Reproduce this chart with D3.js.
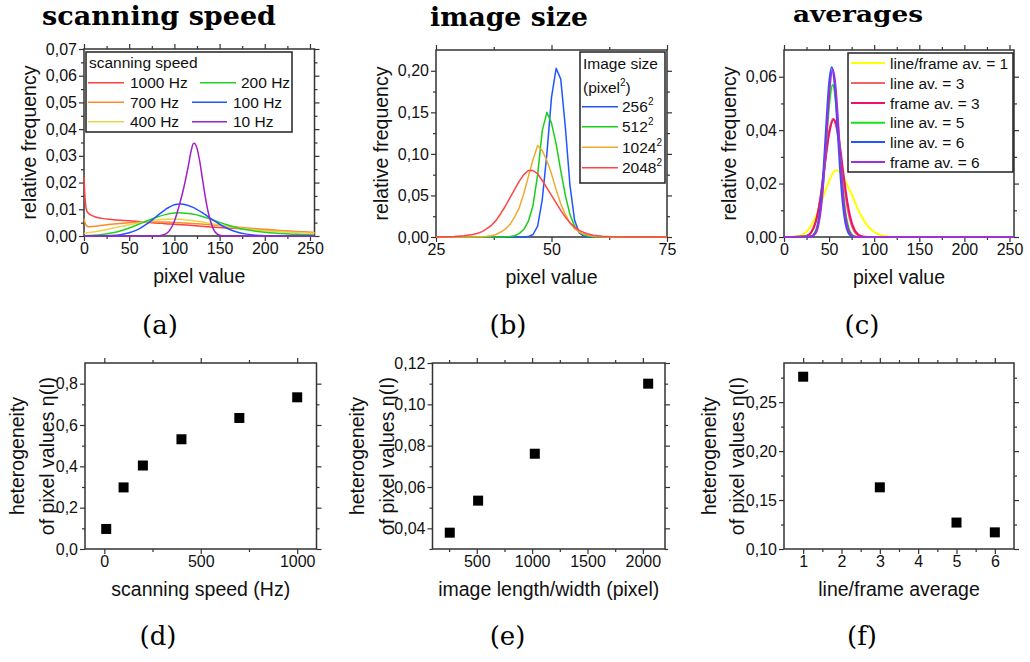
<!DOCTYPE html>
<html>
<head>
<meta charset="utf-8">
<script src="https://cdn.jsdelivr.net/npm/d3@7"></script>
<style>
  body { margin: 0; background: #fff; }
  svg { display: block; font-family: "Liberation Sans", Arial, sans-serif; }
</style>
</head>
<body>
<svg id="chart" width="1030" height="662"></svg>
<script>
// ---------------- data ----------------
// (a) histograms for different scanning speeds: [pixel value, relative frequency]
const speedLabels = ["1000 Hz", "700 Hz", "400 Hz", "200 Hz", "100 Hz", "10 Hz"];
const hz1000 = [[0,0.0220],[1,0.0150],[2,0.0110],[3,0.0095],[5,0.0085],[8,0.0078],[12,0.0072],[20,0.0066],[30,0.0062],[40,0.0059],[50,0.0057],[60,0.0054],[70,0.0051],[80,0.0049],[90,0.0046],[100,0.0044],[120,0.0039],[140,0.0034],[160,0.0030],[180,0.0026],[200,0.0022],[220,0.0018],[240,0.0015],[255,0.0012]];
const hz700 = [[0,0.0065],[1,0.0050],[3,0.0038],[5,0.0035],[10,0.0036],[20,0.0040],[30,0.0044],[40,0.0047],[50,0.0050],[60,0.0051],[70,0.0052],[80,0.0052],[90,0.0052],[100,0.0051],[110,0.0049],[120,0.0047],[140,0.0042],[160,0.0036],[180,0.0030],[200,0.0025],[220,0.0020],[240,0.0016],[255,0.0013]];
const hz400 = [[0,0.0010],[10,0.0015],[20,0.0021],[30,0.0028],[40,0.0035],[50,0.0042],[60,0.0049],[70,0.0055],[80,0.0060],[90,0.0063],[100,0.0064],[110,0.0062],[120,0.0058],[130,0.0053],[140,0.0047],[150,0.0041],[160,0.0035],[170,0.0030],[180,0.0026],[190,0.0023],[200,0.0020],[210,0.0018],[220,0.0016],[230,0.0014],[240,0.0012],[255,0.0010]];
const hz200 = [[0,0.0001],[10,0.0003],[20,0.0006],[30,0.0011],[40,0.0019],[50,0.0030],[60,0.0043],[70,0.0057],[80,0.0070],[90,0.0080],[100,0.0086],[105,0.0087],[110,0.0086],[120,0.0082],[130,0.0074],[140,0.0063],[150,0.0051],[160,0.0040],[170,0.0030],[180,0.0023],[190,0.0018],[200,0.0014],[210,0.0011],[220,0.0009],[230,0.0007],[240,0.0006],[255,0.0004]];
const hz100 = [[0,0],[10,0],[20,0.0001],[30,0.0002],[40,0.0005],[50,0.0012],[60,0.0025],[70,0.0046],[80,0.0073],[90,0.0099],[100,0.0117],[106,0.0120],[110,0.0119],[120,0.0108],[130,0.0089],[140,0.0066],[150,0.0044],[160,0.0026],[170,0.0014],[180,0.0007],[190,0.0003],[200,0.0001],[220,0],[255,0]];
const hz10 = [[0,0],[80,0],[85,0.0002],[90,0.0007],[95,0.0022],[100,0.0055],[105,0.0110],[110,0.0175],[115,0.0255],[118,0.0310],[121,0.0346],[122,0.0347],[125,0.0328],[128,0.0280],[131,0.0215],[134,0.0150],[137,0.0095],[140,0.0055],[145,0.0015],[150,0.0003],[155,0],[255,0]];

// (b) histograms for different image sizes
const sizeLabels = ["256", "512", "1024", "2048"];
const size256 = [[25,0],[44,0],[45,0.0005],[46,0.003],[47,0.013],[48,0.045],[49,0.100],[50,0.168],[51,0.203],[52,0.190],[53,0.132],[54,0.062],[55,0.020],[56,0.005],[57,0.001],[58,0],[75,0]];
const size512 = [[25,0],[40,0],[41,0.0005],[42,0.0015],[43,0.004],[44,0.009],[45,0.019],[46,0.038],[47,0.075],[48,0.128],[49,0.150],[50,0.137],[51,0.112],[52,0.080],[53,0.050],[54,0.027],[55,0.013],[56,0.006],[57,0.0025],[58,0.001],[59,0.0003],[60,0],[75,0]];
const size1024 = [[25,0],[33,0],[34,0.0002],[35,0.0004],[36,0.0008],[37,0.0015],[38,0.003],[39,0.006],[40,0.0095],[41,0.015],[42,0.024],[43,0.035],[44,0.052],[45,0.073],[46,0.093],[47,0.110],[48,0.104],[49,0.092],[50,0.076],[51,0.057],[52,0.040],[53,0.027],[54,0.017],[55,0.010],[56,0.006],[57,0.0035],[58,0.002],[59,0.001],[60,0.0005],[62,0],[75,0]];
const size2048 = [[25,0],[27,0.0002],[29,0.0006],[31,0.0015],[33,0.003],[34,0.0045],[35,0.0065],[36,0.010],[37,0.014],[38,0.020],[39,0.028],[40,0.037],[41,0.047],[42,0.057],[43,0.067],[44,0.075],[45,0.080],[46,0.080],[47,0.076],[48,0.068],[49,0.059],[50,0.050],[51,0.041],[52,0.032],[53,0.024],[54,0.017],[55,0.012],[56,0.008],[57,0.0055],[58,0.0035],[59,0.002],[61,0.0008],[63,0.0002],[66,0],[75,0]];

// (c) histograms for line / frame averaging
const avgLabels = ["line/frame av. = 1", "line av. = 3", "frame av. = 3", "line av. = 5", "line av. = 6", "frame av. = 6"];
const av1 = [[0,0],[10,0.0001],[15,0.0003],[20,0.0008],[25,0.0020],[30,0.0042],[35,0.0075],[40,0.0118],[45,0.0165],[50,0.0210],[55,0.0243],[58,0.0250],[62,0.0242],[66,0.0222],[70,0.0195],[75,0.0160],[80,0.0120],[85,0.0083],[90,0.0054],[95,0.0033],[100,0.0019],[105,0.0010],[110,0.0005],[115,0.0002],[120,0.0001],[130,0],[255,0]];
const lineAv3 = [[0,0],[20,0.0001],[25,0.0004],[30,0.0016],[35,0.0054],[40,0.0138],[45,0.0269],[50,0.0396],[54.5,0.0443],[58,0.0414],[62,0.0325],[66,0.0213],[70,0.0117],[74,0.0054],[78,0.0021],[82,0.0007],[86,0.0002],[90,0],[255,0]];
const frameAv3 = [[0,0],[20,0.0001],[25,0.0004],[30,0.0017],[35,0.0055],[40,0.0137],[45,0.0262],[50,0.0386],[55,0.0440],[58,0.0419],[62,0.0341],[66,0.0234],[70,0.0137],[74,0.0067],[78,0.0028],[82,0.0010],[86,0.0003],[90,0.0001],[95,0],[255,0]];
const lineAv5 = [[0,0],[30,0.0003],[35,0.0021],[38,0.0055],[41,0.0122],[44,0.0228],[47,0.0364],[50,0.0492],[54,0.0569],[57,0.0524],[60,0.0410],[63,0.0272],[66,0.0153],[69,0.0073],[72,0.0030],[75,0.0010],[78,0.0003],[81,0.0001],[85,0],[255,0]];
const lineAv6 = [[0,0],[30,0.0002],[35,0.0018],[38,0.0054],[41,0.0131],[44,0.0261],[47,0.0428],[50,0.0575],[53,0.0635],[56,0.0575],[59,0.0428],[62,0.0261],[65,0.0131],[68,0.0054],[71,0.0018],[74,0.0005],[77,0.0001],[80,0],[255,0]];
const frameAv6 = [[0,0],[30,0.0002],[35,0.0014],[38,0.0043],[41,0.0106],[44,0.0219],[47,0.0375],[50,0.0530],[54,0.0627],[57,0.0570],[60,0.0430],[63,0.0268],[66,0.0138],[69,0.0059],[72,0.0021],[75,0.0006],[78,0.0001],[82,0],[255,0]];

// (d)-(f) heterogeneity of pixel values
const scanSpeeds = [10, 100, 200, 400, 700, 1000];
const etaSpeed = [0.097, 0.298, 0.404, 0.531, 0.634, 0.734];
const imageLengths = [256, 512, 1024, 2048];
const etaSize = [0.0379, 0.0534, 0.0761, 0.1100];
const averages = [1, 3, 5, 6];
const etaAverage = [0.276, 0.163, 0.127, 0.117];

// ---------------- drawing ----------------
const svg = d3.select("#chart");
const SANS = "Liberation Sans, Arial, sans-serif";
const SERIF = "DejaVu Serif, Liberation Serif, serif";
const INK = "#111";
const FRAME = "#333";

const locale = d3.formatLocale({decimal: ",", thousands: "", grouping: [3], currency: ["", ""]});
const f2 = locale.format(".2f"), f1 = locale.format(".1f"), fi = d3.format("d");
const steps = (a, b, s) => d3.range(Math.round((b - a) / s) + 1).map(i => +(a + i * s).toFixed(6));

function drawAxis(maker, scale, transform, values, size, fmt) {
  const ax = maker(scale).tickValues(values).tickSize(size).tickPadding(2)
    .tickFormat(fmt || (() => ""));
  const ag = svg.append("g").attr("transform", transform).call(ax);
  ag.select(".domain").remove();
  ag.attr("font-size", 16).attr("font-family", SANS);
  ag.selectAll("line").attr("stroke", FRAME).attr("stroke-width", 1.2);
  ag.selectAll("text").attr("fill", INK);
}

function panel(box, xDom, yDom, t) {
  const x = d3.scaleLinear().domain(xDom).range([box.left, box.right]);
  const y = d3.scaleLinear().domain(yDom).range([box.bottom, box.top]);
  const sides = [
    [d3.axisBottom, x, `translate(0,${box.bottom})`, t.xMajor, t.xMinor, t.xFmt],
    [d3.axisTop, x, `translate(0,${box.top})`, t.xMajor, t.xMinor, null],
    [d3.axisLeft, y, `translate(${box.left},0)`, t.yMajor, t.yMinor, t.yFmt],
    [d3.axisRight, y, `translate(${box.right},0)`, t.yMajor, t.yMinor, null]
  ];
  sides.forEach(([mk, sc, tr, maj, min, fmt]) => {
    drawAxis(mk, sc, tr, min, 3, null);
    drawAxis(mk, sc, tr, maj, 5, fmt);
  });
  svg.append("rect")
    .attr("x", box.left).attr("y", box.top)
    .attr("width", box.right - box.left).attr("height", box.bottom - box.top)
    .attr("fill", "none").attr("stroke", FRAME).attr("stroke-width", 1.5);
  return {x, y};
}

function xTitle(box, text) {
  svg.append("text").attr("x", (box.left + box.right) / 2).attr("y", box.bottom + 47)
    .attr("text-anchor", "middle").attr("font-size", 19.5).attr("fill", INK).text(text);
}
function yTitle(box, lines, offsets) {
  const cy = (box.top + box.bottom) / 2;
  lines.forEach((txt, i) => {
    const cx = box.left - offsets[i];
    svg.append("text").attr("transform", `translate(${cx},${cy}) rotate(-90)`)
      .attr("text-anchor", "middle").attr("font-size", 19.5).attr("fill", INK).text(txt);
  });
}
// headings are placed by their left edge and stretched to a fixed width
function heading(x0, by, text, width, size) {
  svg.append("text").attr("x", x0).attr("y", by)
    .attr("font-family", SERIF).attr("font-weight", "bold").attr("font-size", size)
    .attr("textLength", width).attr("lengthAdjust", "spacingAndGlyphs")
    .attr("fill", "#000").text(text);
}
function tag(cx, by, text) {
  svg.append("text").attr("x", cx).attr("y", by).attr("text-anchor", "middle")
    .attr("font-family", SERIF).attr("font-size", 26).attr("fill", "#000").text(text);
}
function curves(sc, seriesList, colors, width, curve) {
  const line = d3.line().x(d => sc.x(d[0])).y(d => sc.y(d[1])).curve(curve);
  seriesList.forEach((s, i) => {
    svg.append("path").datum(s).attr("d", line).attr("fill", "none")
      .attr("stroke", colors[i]).attr("stroke-width", width)
      .attr("stroke-linejoin", "round");
  });
}
function legendBox(x, y, w, h) {
  svg.append("rect").attr("x", x).attr("y", y).attr("width", w).attr("height", h)
    .attr("fill", "#fff").attr("stroke", "#222").attr("stroke-width", 1.5);
}
function legendRow(x1, x2, ly, tx, color, width, label, sup) {
  svg.append("line").attr("x1", x1).attr("x2", x2).attr("y1", ly).attr("y2", ly)
    .attr("stroke", color).attr("stroke-width", width);
  const t = svg.append("text").attr("x", tx).attr("y", ly + 5.5)
    .attr("font-size", 15.5).attr("fill", INK).text(label);
  if (sup) t.append("tspan").attr("font-size", 10).attr("dy", -7).text(sup);
}

// ----- (a) scanning speed -----
const boxA = {left: 84, top: 49, right: 314.5, bottom: 236};
const scA = panel(boxA, [0, 255], [0, 0.07], {
  xMajor: steps(0, 250, 50), xMinor: steps(25, 225, 50), xFmt: fi,
  yMajor: steps(0, 0.07, 0.01), yMinor: steps(0.005, 0.065, 0.01), yFmt: f2
});
const colorsA = ["#ff4040", "#ff8a2a", "#e8d64a", "#22d022", "#2255ff", "#a020c8"];
curves(scA, [hz1000, hz700, hz400, hz200, hz100, hz10], colorsA, 1.5, d3.curveMonotoneX);
legendBox(86, 52, 206, 80);
svg.append("text").attr("x", 89).attr("y", 68).attr("font-size", 15.5).attr("fill", INK).text("scanning speed");
const rowsA = [82.7, 102.3, 121.7];
speedLabels.forEach((lab, i) => {
  const col = Math.floor(i / 3), row = i % 3;
  if (col === 0) legendRow(88, 124, rowsA[row], 130, colorsA[i], 1.5, lab);
  else if (row === 0) legendRow(200, 236, rowsA[row], 241, colorsA[i], 1.5, lab);
  else legendRow(192, 227, rowsA[row], 233, colorsA[i], 1.5, lab);
});
xTitle(boxA, "pixel value");
yTitle(boxA, ["relative frequency"], [48]);
heading(42, 25, "scanning speed", 234, 26);
tag(160, 334, "(a)");

// ----- (b) image size -----
const boxB = {left: 436, top: 50, right: 667, bottom: 237};
const scB = panel(boxB, [25, 75], [0, 0.225], {
  xMajor: [25, 50, 75], xMinor: [37.5, 62.5], xFmt: fi,
  yMajor: steps(0, 0.2, 0.05), yMinor: steps(0.025, 0.175, 0.05), yFmt: f2
});
const colorsB = ["#2255ff", "#18d018", "#eeaa30", "#ff4545"];
curves(scB, [size256, size512, size1024, size2048], colorsB, 1.5, d3.curveLinear);
legendBox(580, 52, 85, 131);
svg.append("text").attr("x", 583).attr("y", 68.5).attr("font-size", 15.5).attr("fill", INK).text("Image size");
const pix = svg.append("text").attr("x", 583).attr("y", 92.5).attr("font-size", 15.5).attr("fill", INK).text("(pixel");
pix.append("tspan").attr("font-size", 10).attr("dy", -7).text("2");
pix.append("tspan").attr("dy", 7).text(")");
const rowsB = [106.7, 126.7, 147.3, 167.7];
sizeLabels.forEach((lab, i) => legendRow(582, 618, rowsB[i], 622, colorsB[i], 1.5, lab, "2"));
xTitle(boxB, "pixel value");
yTitle(boxB, ["relative frequency"], [48]);
heading(430, 26, "image size", 158, 26);
tag(508, 334, "(b)");

// ----- (c) averages -----
const boxC = {left: 784, top: 50, right: 1014, bottom: 237};
const scC = panel(boxC, [0, 255], [0, 0.07], {
  xMajor: steps(0, 250, 50), xMinor: steps(25, 225, 50), xFmt: fi,
  yMajor: steps(0, 0.06, 0.02), yMinor: steps(0.01, 0.05, 0.02), yFmt: f2
});
const colorsC = ["#ffff00", "#f46464", "#f0106e", "#18e018", "#2255ff", "#a030d8"];
curves(scC, [av1, lineAv3, frameAv3, lineAv5, lineAv6, frameAv6], colorsC, 2, d3.curveMonotoneX);
legendBox(848, 53, 165, 119);
const rowsC = [63, 83, 103, 122.7, 142, 162];
avgLabels.forEach((lab, i) => legendRow(851, 885, rowsC[i], 890, colorsC[i], 2, lab));
xTitle(boxC, "pixel value");
yTitle(boxC, ["relative frequency"], [48]);
heading(793, 22, "averages", 130, 23);
tag(862, 334, "(c)");

// ----- (d)-(f) heterogeneity -----
function scatter(sc, xs, ys) {
  svg.append("g").selectAll("rect").data(xs).join("rect")
    .attr("x", (d, i) => sc.x(d) - 5).attr("y", (d, i) => sc.y(ys[i]) - 5)
    .attr("width", 10).attr("height", 10).attr("fill", "#000");
}
const etaLines = ["heterogeneity", "of pixel values \u03B7(I)"];

const boxD = {left: 85, top: 363, right: 316.5, bottom: 549};
const scD = panel(boxD, [-100, 1100], [0, 0.9], {
  xMajor: [0, 500, 1000], xMinor: [250, 750], xFmt: fi,
  yMajor: steps(0, 0.8, 0.2), yMinor: steps(0.1, 0.7, 0.2), yFmt: f1
});
scatter(scD, scanSpeeds, etaSpeed);
xTitle(boxD, "scanning speed (Hz)");
yTitle(boxD, etaLines, [61, 31]);
tag(158, 645, "(d)");

const boxE = {left: 432.5, top: 363, right: 665, bottom: 549};
const scE = panel(boxE, [100, 2200], [0.03, 0.12], {
  xMajor: [500, 1000, 1500, 2000], xMinor: [250, 750, 1250, 1750], xFmt: fi,
  yMajor: steps(0.04, 0.12, 0.02), yMinor: steps(0.03, 0.11, 0.02), yFmt: f2
});
scatter(scE, imageLengths, etaSize);
xTitle(boxE, "image length/width (pixel)");
yTitle(boxE, etaLines, [69, 39]);
tag(507.5, 645, "(e)");

const boxF = {left: 784, top: 363, right: 1014, bottom: 549};
const scF = panel(boxF, [0.5, 6.5], [0.10, 0.29], {
  xMajor: steps(1, 6, 1), xMinor: steps(1.5, 5.5, 1), xFmt: fi,
  yMajor: steps(0.10, 0.25, 0.05), yMinor: steps(0.125, 0.275, 0.05), yFmt: f2
});
scatter(scF, averages, etaAverage);
xTitle(boxF, "line/frame average");
yTitle(boxF, etaLines, [68, 40]);
tag(862, 645, "(f)");
</script>
</body>
</html>
